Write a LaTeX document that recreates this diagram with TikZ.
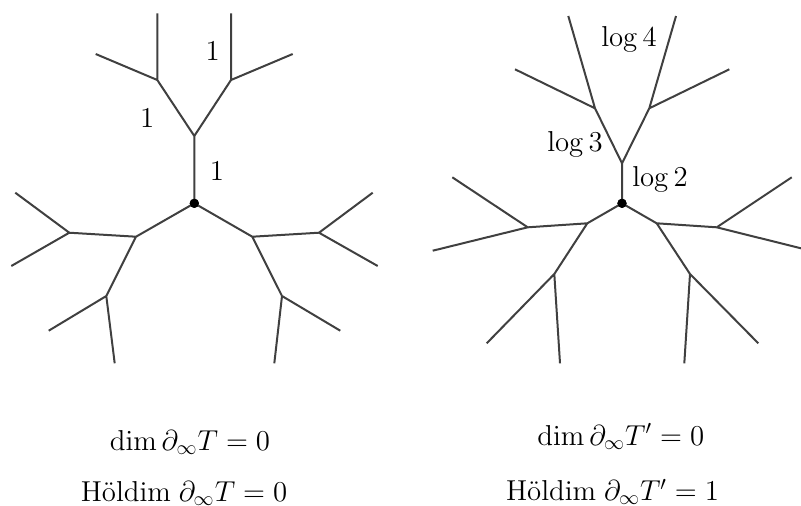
\documentclass[tikz,border=0pt]{standalone}
\usepackage{amsmath}
\begin{document}
\begin{tikzpicture}[x=0.5pt,y=-0.5pt,
  edge/.style={draw=black!75, line width=1pt},
  lbl/.style={anchor=base, inner sep=0pt, font=\Large},
  root/.style={circle, fill=black, inner sep=0pt, minimum size=4.6pt}]
\useasboundingbox (0,0) rectangle (801,505);
% ---------- left tree ----------
\node[root] (L0) at (194.3,203.3) {};
\coordinate (Lu) at (194.3,136);
\coordinate (Lul) at (157.3,80);
\coordinate (Lul1) at (157.3,13.3);
\coordinate (Lul2) at (95.7,54);
\coordinate (Lur) at (231,80);
\coordinate (Lur1) at (231,13.3);
\coordinate (Lur2) at (292.7,54);
\coordinate (Ll) at (136,236.7);
\coordinate (Lla) at (69.3,232.7);
\coordinate (Lla1) at (15.3,192.7);
\coordinate (Lla2) at (11.3,266);
\coordinate (Llb) at (106.3,296);
\coordinate (Llb1) at (48.7,330.7);
\coordinate (Llb2) at (114.7,363.3);
\coordinate (Lr) at (252.3,236.7);
\coordinate (Lra) at (319,232.7);
\coordinate (Lra1) at (372.7,192.7);
\coordinate (Lra2) at (377.7,266);
\coordinate (Lrb) at (282,296);
\coordinate (Lrb1) at (340.3,330.7);
\coordinate (Lrb2) at (274.3,363.3);
\draw[edge] (L0.center) -- (Lu) (Lu) -- (Lul) (Lul) -- (Lul1) (Lul) -- (Lul2)
  (Lu) -- (Lur) (Lur) -- (Lur1) (Lur) -- (Lur2)
  (L0.center) -- (Ll) (Ll) -- (Lla) (Lla) -- (Lla1) (Lla) -- (Lla2)
  (Ll) -- (Llb) (Llb) -- (Llb1) (Llb) -- (Llb2)
  (L0.center) -- (Lr) (Lr) -- (Lra) (Lra) -- (Lra1) (Lra) -- (Lra2)
  (Lr) -- (Lrb) (Lrb) -- (Lrb1) (Lrb) -- (Lrb2);
\node[root] at (L0) {};
\node[lbl] (l1a) at (212.7,60.5) {$1$};
\node[lbl] (l1b) at (147.2,127.2) {$1$};
\node[lbl] (l1c) at (216.8,180.6) {$1$};
% ---------- right tree ----------
\node[root] (R0) at (622,203.3) {};
\coordinate (Ru) at (622,163.3);
\coordinate (Rul) at (595,108.3);
\coordinate (Rul1) at (568.3,16);
\coordinate (Rul2) at (515,69.3);
\coordinate (Rur) at (649.3,108.3);
\coordinate (Rur1) at (676,16);
\coordinate (Rur2) at (729.3,69.3);
\coordinate (Rl) at (587.3,223.3);
\coordinate (Rla) at (527.7,227.3);
\coordinate (Rla1) at (452.3,177.3);
\coordinate (Rla2) at (432.7,250.7);
\coordinate (Rlb) at (554.3,274);
\coordinate (Rlb1) at (486.7,343.3);
\coordinate (Rlb2) at (560,363.3);
\coordinate (Rr) at (656.7,223.3);
\coordinate (Rra) at (716.7,227.3);
\coordinate (Rra1) at (791.7,177.3);
\coordinate (Rra2) at (801,248.3);
\coordinate (Rrb) at (690,274);
\coordinate (Rrb1) at (758.3,343.3);
\coordinate (Rrb2) at (684.3,363.3);
\draw[edge] (R0.center) -- (Ru) (Ru) -- (Rul) (Rul) -- (Rul1) (Rul) -- (Rul2)
  (Ru) -- (Rur) (Rur) -- (Rur1) (Rur) -- (Rur2)
  (R0.center) -- (Rl) (Rl) -- (Rla) (Rla) -- (Rla1) (Rla) -- (Rla2)
  (Rl) -- (Rlb) (Rlb) -- (Rlb1) (Rlb) -- (Rlb2)
  (R0.center) -- (Rr) (Rr) -- (Rra) (Rra) -- (Rra1) (Rra) -- (Rra2)
  (Rr) -- (Rrb) (Rrb) -- (Rrb1) (Rrb) -- (Rrb2);
\node[root] at (R0) {};
\node[lbl] (log4) at (629,46.7) {$\log 4$};
\node[lbl] (log3) at (575,151.7) {$\log 3$};
\node[lbl] (log2) at (660,186.7) {$\log 2$};
% ---------- captions ----------
\node[lbl] (c1) at (190,450.5) {$\dim \partial_\infty T = 0$};
\node[lbl] (c2) at (184,501.5) {$\text{H\"oldim}\; \partial_\infty T = 0$};
\node[lbl] (c3) at (620.8,445) {$\dim \partial_\infty T' = 0$};
\node[lbl] (c4) at (612.5,500.5) {$\text{H\"oldim}\; \partial_\infty T' = 1$};
\end{tikzpicture}
\end{document}
